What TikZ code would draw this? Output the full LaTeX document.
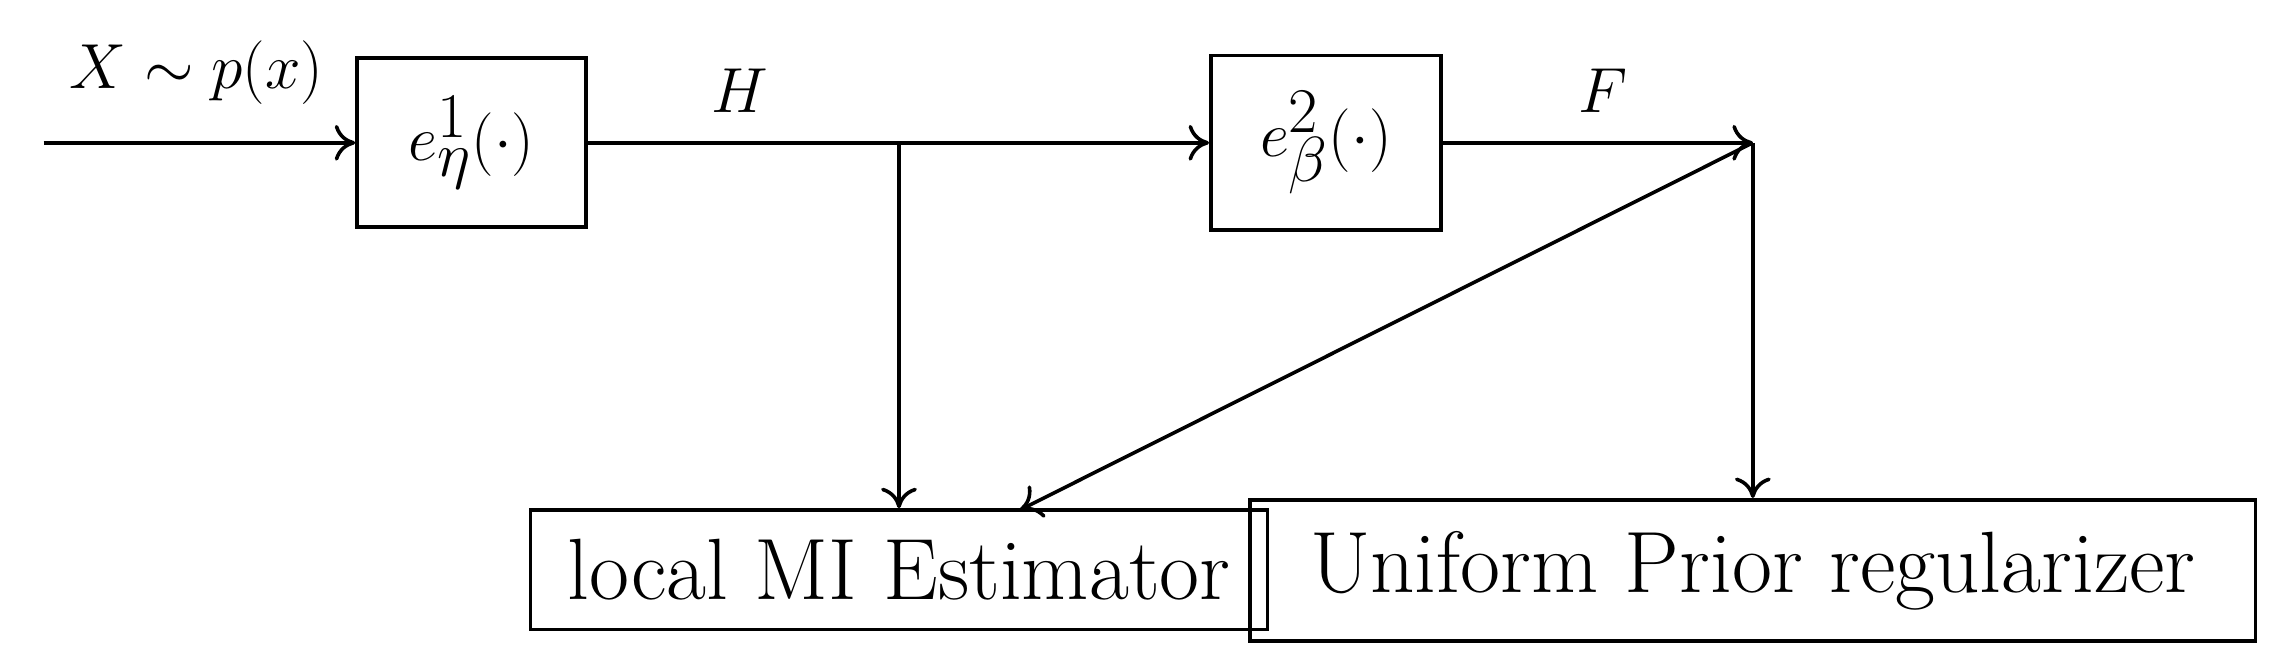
\documentclass[tikz,border=0pt]{standalone}
\usetikzlibrary{arrows.meta}
\begin{document}
\begin{tikzpicture}[x=0.02cm,y=-0.02cm,
  box/.style={draw,line width=1.4pt,inner sep=0pt,anchor=center},
  lbl/.style={font=\fontsize{34}{40}\selectfont},
  mlbl/.style={font=\fontsize{39}{44}\selectfont},
  conn/.style={line width=1.4pt,-{To[length=8pt,width=14pt]}}]
\useasboundingbox (0,0) rectangle (1560,455);
\node[box,mlbl,minimum width=3.14cm,minimum height=2.32cm] (e1) at (323.5,98) {$e^1_\eta(\cdot)$};
\node[box,mlbl,minimum width=3.16cm,minimum height=2.4cm] (e2) at (910,98) {$e^2_\beta(\cdot)$};
\node[box,lbl,minimum width=10.12cm,minimum height=1.64cm] (mi) at (617,391) {local MI Estimator};
\node[box,lbl,minimum width=13.8cm,minimum height=1.94cm] (up) at (1203,391.5) {Uniform Prior regularizer};
\coordinate (in) at (30,98);
\coordinate (j) at (617,98);
\coordinate (k) at (1203,98);
\coordinate (t) at (700,350);
\node[mlbl] (x) at (135,50) {$X\sim p(x)$};
\node[mlbl] (h) at (508,62) {$H$};
\node[mlbl] (f) at (1100,62) {$F$};
\draw[conn] (in) -- (e1.west);
\draw[line width=1.4pt] (e1.east) -- (j);
\draw[conn] (j) -- (e2.west);
\draw[conn] (e2.east) -- (k);
\draw[conn] (j) -- (mi.north);
\draw[conn] (k) -- (up.north);
\draw[conn] (k) -- (t);
\end{tikzpicture}
\end{document}
